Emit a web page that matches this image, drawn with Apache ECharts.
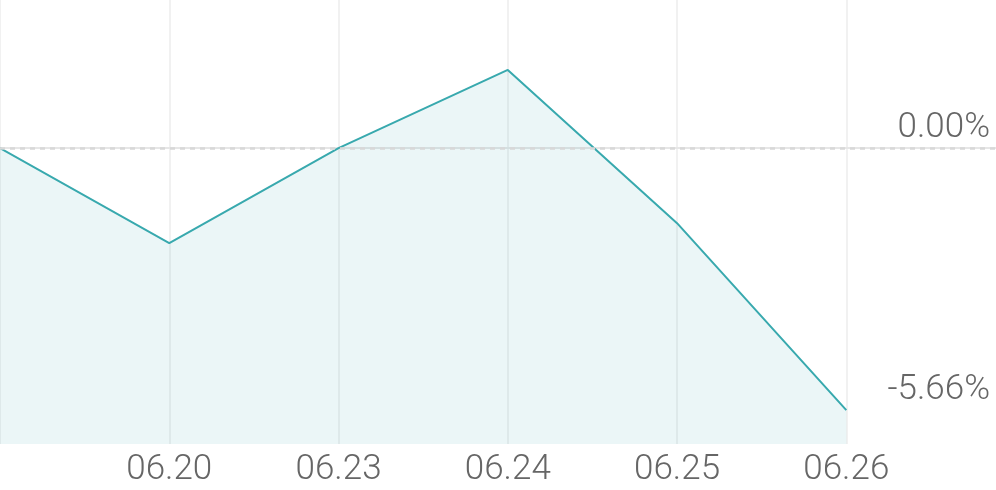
<!DOCTYPE html>
<html><head><meta charset="utf-8">
<script src="https://cdn.jsdelivr.net/npm/echarts@6/dist/echarts.min.js"></script>
<style>html,body{margin:0;padding:0;background:#fff}#c{width:996px;height:490px}</style>
</head><body><div id="c"></div>
<script>
const categories = ['', '06.20', '06.23', '06.24', '06.25', '06.26'];
const values = [0.00, -2.05, 0.00, 1.69, -1.62, -5.66];
const refLevels = [0.00, -5.66];

const chart = echarts.init(document.getElementById('c'), null, {renderer: 'canvas'});
const pts = values.map((v, i) => [i, v]);
chart.setOption({
  animation: false,
  grid: {left: 0, right: -4, top: 0, bottom: 46, containLabel: false, outerBoundsMode: 'none'},
  xAxis: {
    type: 'value', min: 0, max: 5.908, interval: 1,
    axisLine: {show: true, lineStyle: {color: '#e6e6e6', width: 2}},
    axisTick: {show: false},
    splitLine: {show: true, lineStyle: {color: '#f1f1f1', width: 2}},
    axisLabel: {
      color: '#666', fontFamily: 'Roboto', fontSize: 35, fontWeight: 300, margin: 9,
      showMaxLabel: false,
      formatter: v => (Number.isInteger(v) && categories[v]) ? categories[v] : ''
    }
  },
  yAxis: {
    type: 'value', min: -6.39, max: 3.2,
    axisLine: {show: false}, axisTick: {show: false}, axisLabel: {show: false},
    splitLine: {show: false}
  },
  series: [{
    type: 'line', data: pts, symbol: 'none',
    lineStyle: {color: '#38a9ae', width: 2},
    areaStyle: {color: '#38a9ae', opacity: 0.1, origin: 'start'},
    markLine: {
      silent: true, symbol: 'none',
      lineStyle: {color: '#d8d8d8', type: [5, 5], width: 2.5},
      data: refLevels.map((v, i) => i === 0 ? {yAxis: v} : {yAxis: v, lineStyle: {color: 'rgba(255,255,255,0)'}}),
      label: {
        show: true, position: 'insideEndTop', distance: [10, 2],
        color: '#666', fontFamily: 'Roboto', fontSize: 35, fontWeight: 300,
        formatter: p => p.value.toFixed(2) + '%'
      }
    }
  }]
});
</script></body></html>
